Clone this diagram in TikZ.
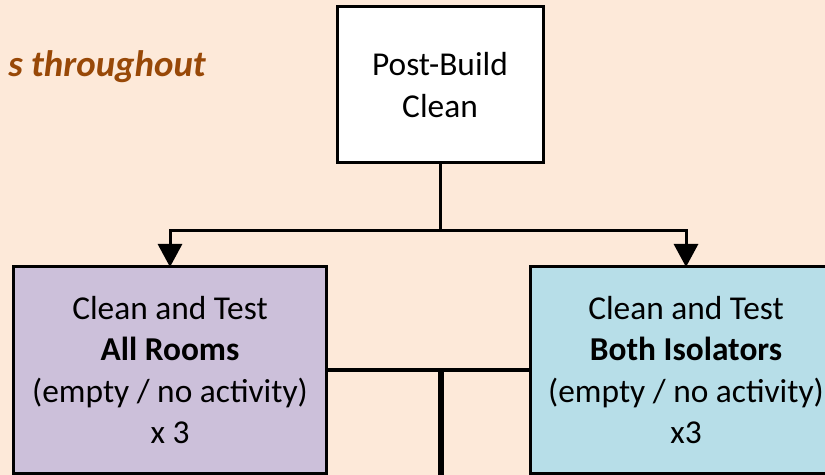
\documentclass[tikz,border=0pt]{standalone}
\usepackage{fontspec}
\setmainfont{Carlito}
\usetikzlibrary{arrows.meta}
\definecolor{bg}{HTML}{FDE9D9}
\definecolor{lav}{HTML}{CCC0DA}
\definecolor{aqua}{HTML}{B7DEE8}
\definecolor{brn}{HTML}{984807}
\begin{document}
\begin{tikzpicture}[x=1bp,y=-1bp,
  box/.style={draw=black,line width=3bp,outer sep=0pt,inner sep=0pt,align=center,font=\fontsize{33.5}{41.5}\selectfont},
  conn/.style={line width=3bp,draw=black},
  arr/.style={conn,-{Triangle[width=24bp,length=23bp]}}]
\fill[bg] (0,0) rectangle (825,475);
\useasboundingbox (0,0) rectangle (825,475);
\clip (0,0) rectangle (825,475);
\node[anchor=base east,inner sep=0pt,text=brn,font=\fontsize{37}{40}\selectfont\bfseries\itshape] (tag) at (206,77) {s throughout};
\node[box,fill=white,minimum width=206bp,minimum height=156bp] (pb) at (440,85) {Post-Build\\Clean};
\node[box,fill=lav,minimum width=312bp,minimum height=206bp] (rooms) at (170,370) {Clean and Test\\\textbf{All Rooms}\\(empty / no activity)\\x 3};
\node[box,fill=aqua,minimum width=312bp,minimum height=206bp] (iso) at (686,370) {Clean and Test\\\textbf{Both Isolators}\\(empty / no activity)\\x3};
\coordinate (split) at (440,231);
\draw[conn] (pb.south) -- (split);
\draw[arr] (split) -| (rooms.north);
\draw[arr] (split) -| (iso.north);
\draw[conn] (rooms.east) -- (iso.west);
\coordinate (mid) at (441,370);
\coordinate (down) at (441,480);
\draw[line width=6bp] (mid) -- (down);
\end{tikzpicture}
\end{document}
